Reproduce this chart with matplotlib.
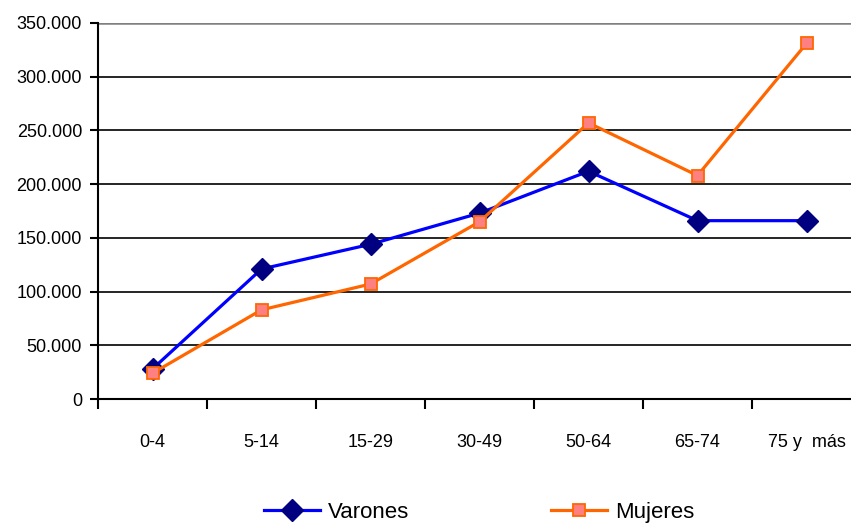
import matplotlib.pyplot as plt
from matplotlib.ticker import FuncFormatter

# age groups and population values
grupos = ['0-4', '5-14', '15-29', '30-49', '50-64', '65-74', '75 y  más']
varones = [28000, 121000, 144000, 173000, 212000, 166000, 166000]
mujeres = [24000, 83000, 107000, 165000, 257000, 208000, 331000]

plt.rcParams['font.family'] = ['Liberation Sans', 'DejaVu Sans']

fig = plt.figure(figsize=(8.51, 5.27), dpi=100)
ax = fig.add_axes([98 / 851, 128 / 527, 763 / 851, 376 / 527])

x = range(len(grupos))
ax.plot(x, varones, color='#0000FF', lw=2.3, marker='D', ms=11,
        mfc='#000080', mec='#000080', label='Varones', zorder=3)
ax.plot(x, mujeres, color='#FF6600', lw=2.3, marker='s', ms=8.5,
        mfc='#FF8080', mec='#FF6600', mew=1.3, label='Mujeres', zorder=4)

ax.set_xlim(-0.5, len(grupos) - 0.5)
ax.set_ylim(0, 350000)
ax.set_yticks(range(0, 350001, 50000))
ax.yaxis.set_major_formatter(FuncFormatter(lambda v, p: f'{int(v):,}'.replace(',', '.')))

# category labels centred, tick marks on the boundaries
ax.set_xticks(list(x))
ax.set_xticklabels(grupos)
ax.set_xticks([i - 0.5 for i in range(len(grupos) + 1)], minor=True)
ax.tick_params(axis='x', which='major', length=0, pad=25, labelsize=13)
ax.tick_params(axis='x', which='minor', length=7.4, width=1.5, color='black')
ax.tick_params(axis='y', length=6, width=1.5, labelsize=13, pad=5.5)

for v in range(50000, 350000, 50000):
    ax.axhline(v, color='black', lw=1.2, zorder=1)
ax.axhline(350000, color='#808080', lw=1.8, zorder=1)

for s in ['top', 'right']:
    ax.spines[s].set_visible(False)
ax.spines['left'].set_linewidth(1.5)
ax.spines['bottom'].set_linewidth(1.5)

fig.legend(loc='center', bbox_to_anchor=(0.563, 0.028), ncol=2, frameon=False,
           fontsize=16, handlelength=2.5, handletextpad=0.36, columnspacing=6.4)

fig.savefig('out.png', dpi=100)
